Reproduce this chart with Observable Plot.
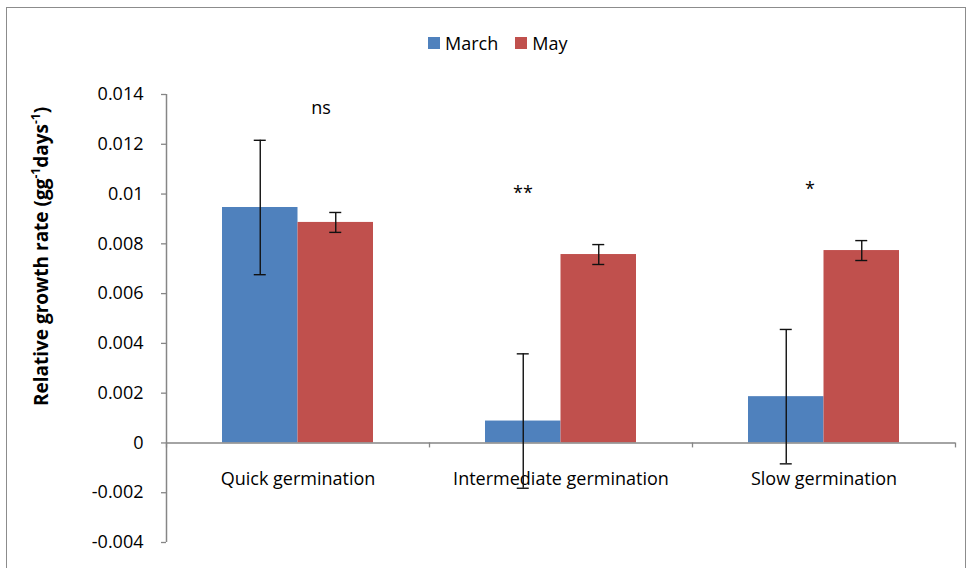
<!DOCTYPE html>
<html>
<head>
<meta charset="utf-8">
<script src="https://cdn.jsdelivr.net/npm/d3@7"></script>
<script src="https://cdn.jsdelivr.net/npm/@observablehq/plot@0.6"></script>
<style>
  html, body { margin: 0; padding: 0; background: #fff; }
  body { width: 971px; height: 568px; overflow: hidden; position: relative; font-family: "Open Sans", sans-serif; }
  #border { position: absolute; left: 6px; top: 7px; width: 960px; height: 600px; border: 1.5px solid #8c8c8c; box-sizing: border-box; pointer-events: none; }
  #chart { position: absolute; left: 0; top: 0; width: 971px; }
  #legend { height: 62px; position: relative; }
  #legend .items { position: absolute; left: 428px; top: 33px; display: flex; align-items: center; font-size: 18px; color: #000; line-height: 20px; }
  #legend .sw { display: inline-block; width: 12px; height: 12px; margin-right: 5px; }
  #legend .item { display: flex; align-items: center; margin-right: 17px; }
</style>
</head>
<body>
<div id="chart"></div>
<div id="border"></div>
<script>
// ---- data ----
const categories = ["Quick germination", "Intermediate germination", "Slow germination"];
const seriesNames = ["March", "May"];
const marchMean = [0.00946, 0.00088, 0.00186];
const marchErr  = [0.0027, 0.0027, 0.0027];
const mayMean   = [0.00886, 0.00757, 0.00773];
const mayErr    = [0.0004, 0.0004, 0.0004];
const significance = ["ns", "**", "*"];
const significanceY = [0.01344, 0.01005, 0.0102];
const yTicks = [-0.004, -0.002, 0, 0.002, 0.004, 0.006, 0.008, 0.01, 0.012, 0.014];
const seriesColors = ["#4F81BD", "#C0504D"];
const yLabel = "Relative growth rate (gg-1days-1)";

// ---- table built from arrays ----
const rows = [];
categories.forEach((c, i) => {
  rows.push({category: c, series: "March", mean: marchMean[i], err: marchErr[i]});
  rows.push({category: c, series: "May", mean: mayMean[i], err: mayErr[i]});
});
const march = rows.filter(d => d.series === "March");
const may = rows.filter(d => d.series === "May");

// ---- layout ----
const W = 971, H = 506;
const mL = 166, mR = 16, mT = 32, mB = 26;
const bw = (W - mL - mR) / categories.length;
const gap = 56;
const barW = (bw - 2 * gap) / 2;
const capW = 12;
const font = "Open Sans";
const axisGray = "#868686";

// legend
const legend = document.createElement("div");
legend.id = "legend";
const items = document.createElement("div");
items.className = "items";
seriesNames.forEach((s, i) => {
  const it = document.createElement("div");
  it.className = "item";
  const sw = document.createElement("span");
  sw.className = "sw";
  sw.style.background = seriesColors[i];
  it.appendChild(sw);
  it.appendChild(document.createTextNode(s));
  items.appendChild(it);
});
legend.appendChild(items);
document.getElementById("chart").appendChild(legend);

const marchCenter = gap + barW / 2;        // offset from band start
const mayCenter = bw / 2 + barW / 2;

const sigOffsets = [23, -38, -14];

const plot = Plot.plot({
  width: W,
  height: H,
  marginLeft: mL,
  marginRight: mR,
  marginTop: mT,
  marginBottom: mB,
  style: {fontFamily: font, fontSize: "18px", color: "#000", background: "transparent"},
  x: {type: "band", domain: categories, padding: 0, axis: null},
  y: {domain: [-0.004, 0.014], axis: null},
  color: {domain: seriesNames, range: seriesColors},
  marks: [
    // bars
    Plot.barY(march, {x: "category", y: "mean", fill: "series", insetLeft: gap, insetRight: bw - gap - barW}),
    Plot.barY(may, {x: "category", y: "mean", fill: "series", insetLeft: bw / 2, insetRight: gap}),
    // y axis
    Plot.axisY({ticks: yTicks, tickSize: 5, tickPadding: 18, stroke: axisGray, fill: "#000", strokeWidth: 1.3,
      tickFormat: d => String(+d.toFixed(3)), fontSize: 18, label: null}),
    Plot.ruleX([categories[0]], {x: d => d, y1: -0.004, y2: 0.014, dx: -bw / 2, stroke: axisGray, strokeWidth: 1.5}),
    // x axis line at zero and boundary ticks
    Plot.ruleY([0], {stroke: axisGray, strokeWidth: 1.5}),
    Plot.ruleX(categories, {x: d => d, y1: 0, y2: -0.0002, dx: -bw / 2, stroke: axisGray, strokeWidth: 1.3}),
    Plot.ruleX([categories[categories.length - 1]], {x: d => d, y1: 0, y2: -0.0002, dx: bw / 2, stroke: axisGray, strokeWidth: 1.3}),
    // category labels
    Plot.text(categories, {x: d => d, y: 0, dy: 36, text: d => d, fontSize: 18, fill: "#000"}),
    // error bars
    Plot.ruleX(march, {x: "category", y1: d => d.mean - d.err, y2: d => d.mean + d.err, dx: marchCenter - bw / 2, stroke: "#111", strokeWidth: 1.4}),
    Plot.ruleX(may, {x: "category", y1: d => d.mean - d.err, y2: d => d.mean + d.err, dx: mayCenter - bw / 2, stroke: "#111", strokeWidth: 1.4}),
    ...[march, may].flatMap((set, k) => {
      const c = k === 0 ? marchCenter : mayCenter;
      const opts = {x: "category", stroke: "#111", strokeWidth: 1.4, insetLeft: c - capW / 2, insetRight: bw - c - capW / 2};
      return [
        Plot.tickY(set, {...opts, y: d => d.mean + d.err}),
        Plot.tickY(set, {...opts, y: d => d.mean - d.err})
      ];
    }),
    // significance labels
    ...categories.map((c, i) => Plot.text([i], {x: () => c, y: () => significanceY[i], text: () => significance[i], dx: sigOffsets[i], fontSize: 18, fill: "#000"})),
    // y axis label
    Plot.text([yLabel], {frameAnchor: "left", textAnchor: "middle", text: d => d, rotate: -90, dx: -125, dy: -62, fontSize: 19, fontWeight: "bold", fill: "#000", className: "ylabel"})
  ]
});
document.getElementById("chart").appendChild(plot);

// superscripts in y label
const lbl = plot.querySelector(".ylabel text");
if (lbl) {
  while (lbl.firstChild) lbl.removeChild(lbl.firstChild);
  const ns = "http://www.w3.org/2000/svg";
  const parts = [["Relative growth rate (gg", false], ["-1", true], ["days", false], ["-1", true], [")", false]];
  for (const [t, sup] of parts) {
    const ts = document.createElementNS(ns, "tspan");
    ts.textContent = t;
    if (sup) { ts.setAttribute("baseline-shift", "super"); ts.setAttribute("font-size", "12"); }
    lbl.appendChild(ts);
  }
}
</script>
</body>
</html>
